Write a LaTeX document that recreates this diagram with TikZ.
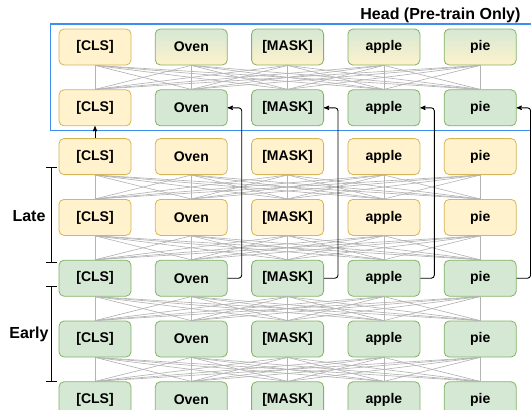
\documentclass[tikz,border=0pt]{standalone}
\usepackage{fontspec}
\setmainfont{Liberation Sans}
\usetikzlibrary{positioning, arrows}
\definecolor{yelfill}{HTML}{FFF2CC}
\definecolor{yelline}{HTML}{D6B656}
\definecolor{grnfill}{HTML}{D5E8D4}
\definecolor{grnline}{HTML}{82B366}
\definecolor{meshgray}{HTML}{B4B4B4}
\definecolor{headblue}{HTML}{3D8EF0}

\begin{document}
\begin{tikzpicture}[x=1pt,y=-1pt,>=stealth',node distance=24pt and 23.5pt,
	token/.style={rectangle, rounded corners=5pt, draw, line width=0.8pt, minimum width=72pt, minimum height=36pt, font=\fontsize{14}{14}\selectfont\bfseries},
	yel/.style={token, draw=yelline, fill=yelfill},
	grn/.style={token, draw=grnline, fill=grnfill},
	mix/.style={token, draw=grnline, top color=grnfill, bottom color=yelfill},
	mesh/.style={draw=meshgray, line width=0.65pt},
	side/.style={font=\fontsize{16}{16}\selectfont\bfseries}]
		\useasboundingbox (0,0) rectangle (531,410);
		\clip (0,0) rectangle (531,410);

		% head
		\node[yel						] (CLS_1) at (95,47)	{[CLS]};
		\node[mix, right=of CLS_1		] (OVEN_1) 		{Oven};
		\node[mix, right=of OVEN_1		] (MASK_1) 		{[MASK]};
		\node[mix, right=of MASK_1		] (APPLE_1) 	{apple};
		\node[mix, right=of APPLE_1		] (PIE_1) 		{pie};

		\node[yel, below=of CLS_1		] (CLS_2) 		{[CLS]};
		\node[grn, right=of CLS_2		] (OVEN_2) 		{Oven};
		\node[grn, right=of OVEN_2		] (MASK_2) 		{[MASK]};
		\node[grn, right=of MASK_2		] (APPLE_2) 	{apple};
		\node[grn, right=of APPLE_2		] (PIE_2) 		{pie};

		% late
		\node[yel, below=12pt of CLS_2	] (CLS_3) 		{[CLS]};
		\node[yel, right=of CLS_3		] (OVEN_3) 		{Oven};
		\node[yel, right=of OVEN_3		] (MASK_3) 		{[MASK]};
		\node[yel, right=of MASK_3		] (APPLE_3) 	{apple};
		\node[yel, right=of APPLE_3		] (PIE_3) 		{pie};

		\node[yel, below=of CLS_3		] (CLS_4) 		{[CLS]};
		\node[yel, right=of CLS_4		] (OVEN_4) 		{Oven};
		\node[yel, right=of OVEN_4		] (MASK_4) 		{[MASK]};
		\node[yel, right=of MASK_4		] (APPLE_4) 	{apple};
		\node[yel, right=of APPLE_4		] (PIE_4) 		{pie};

		% early
		\node[grn, below=of CLS_4		] (CLS_5) 		{[CLS]};
		\node[grn, right=of CLS_5		] (OVEN_5) 		{Oven};
		\node[grn, right=of OVEN_5		] (MASK_5) 		{[MASK]};
		\node[grn, right=of MASK_5		] (APPLE_5) 	{apple};
		\node[grn, right=of APPLE_5		] (PIE_5) 		{pie};

		\node[grn, below=of CLS_5		] (CLS_6) 		{[CLS]};
		\node[grn, right=of CLS_6		] (OVEN_6) 		{Oven};
		\node[grn, right=of OVEN_6		] (MASK_6) 		{[MASK]};
		\node[grn, right=of MASK_6		] (APPLE_6) 	{apple};
		\node[grn, right=of APPLE_6		] (PIE_6) 		{pie};

		\node[grn, below=of CLS_6		] (CLS_7) 		{[CLS]};
		\node[grn, right=of CLS_7		] (OVEN_7) 		{Oven};
		\node[grn, right=of OVEN_7		] (MASK_7) 		{[MASK]};
		\node[grn, right=of MASK_7		] (APPLE_7) 	{apple};
		\node[grn, right=of APPLE_7		] (PIE_7) 		{pie};

		% all-to-all links between layers
		\foreach \r/\s in {1/2,3/4,4/5,5/6,6/7}
			\foreach \a in {CLS,OVEN,MASK,APPLE,PIE}
				\foreach \b in {CLS,OVEN,MASK,APPLE,PIE}
					\draw[mesh] (\a_\r.south) -- (\b_\s.north);

		% head frame and labels
		\draw[headblue, line width=1.2pt] (50.5,24) rectangle (545,130.5);
		\node[side, anchor=east			] (HEAD) at (524,15)	{Head (Pre-train Only)};
		\node[side						] (LATE) at (29,216)	{Late};
		\node[side						] (EARLY) at (29,334)	{Early};

		\draw[line width=0.9pt] (46,167) -- (57,167) (51.5,167) -- (51.5,262) (46,262) -- (57,262);
		\draw[line width=0.9pt] (46,286) -- (57,286) (51.5,286) -- (51.5,381) (46,381) -- (57,381);

		% early outputs fed to the head
		\draw[->, line width=0.9pt] (CLS_3) -- (CLS_2);
		\draw[->, line width=0.9pt, rounded corners=3pt]
				(OVEN_5.east)	-- ++(14,0) |- (OVEN_2.east);
		\draw[->, line width=0.9pt, rounded corners=3pt]
				(MASK_5.east)	-- ++(14,0) |- (MASK_2.east);
		\draw[->, line width=0.9pt, rounded corners=3pt]
				(APPLE_5.east)	-- ++(14,0) |- (APPLE_2.east);
		\draw[->, line width=0.9pt, rounded corners=3pt]
				(PIE_5.east)	-- ++(14,0) |- (PIE_2.east);
\end{tikzpicture}
\end{document}
